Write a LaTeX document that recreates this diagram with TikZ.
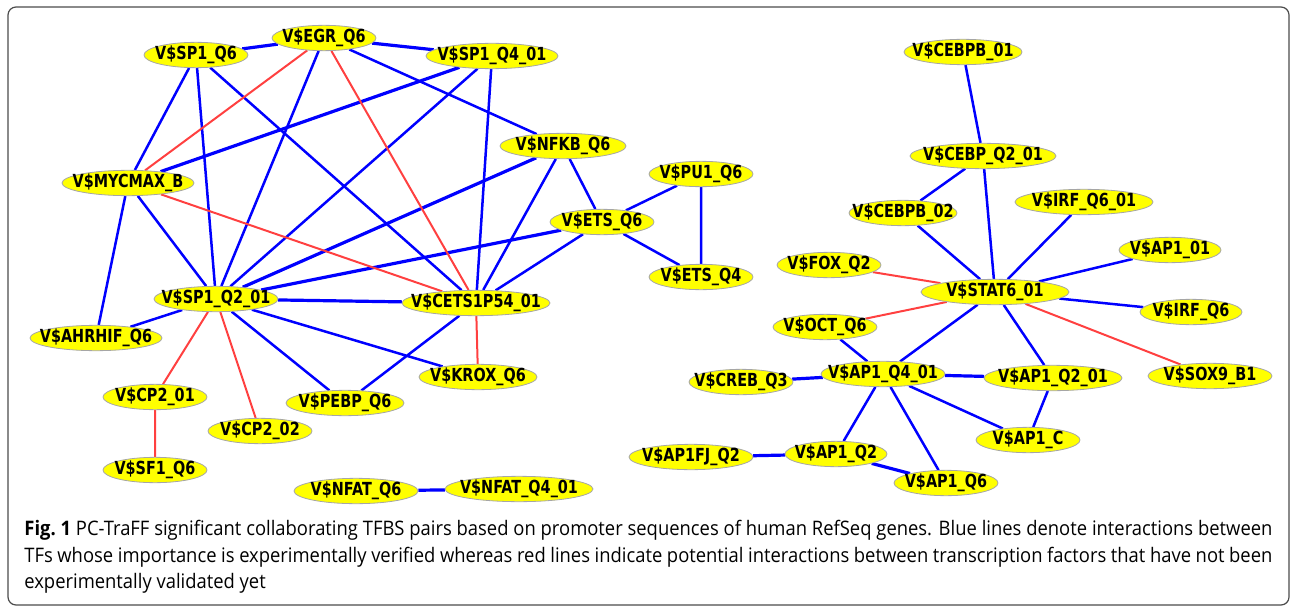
\documentclass[tikz,border=0pt]{standalone}
\usepackage{fontspec}
\newfontfamily\tffont{DejaVu Sans}[FakeStretch=0.8]
\newfontfamily\capfont{Open Sans}[FakeStretch=0.92]
\usetikzlibrary{shapes.geometric,backgrounds}
\definecolor{tfyellow}{RGB}{255,255,0}
\definecolor{tfblue}{RGB}{0,0,255}
\definecolor{tfred}{RGB}{255,64,64}
\begin{document}
\begin{tikzpicture}[x=.5pt,y=-.5pt,
  tf/.style={ellipse,fill=tfyellow,draw=black!35,line width=.4pt,inner xsep=-12pt,inner ysep=0pt,
    minimum height=12.5pt,font=\tffont\bfseries\fontsize{9}{10}\selectfont},
  bl/.style={tfblue,line width=1.25pt},
  blt/.style={tfblue,line width=1.6pt},
  rd/.style={tfred,line width=1pt}]
  \useasboundingbox (0,0) rectangle (1294,610);
  \draw[black!70,line width=.6pt,rounded corners=4pt] (8,7) rectangle (1289,605);
  % left cluster
  \node[tf,minimum width=52pt] (sp1q6) at (196,55) {V\$SP1\_Q6};
  \node[tf,minimum width=52pt] (egr) at (324,38) {V\$EGR\_Q6};
  \node[tf,minimum width=66pt] (sp1q4) at (492,56) {V\$SP1\_Q4\_01};
  \node[tf,minimum width=63pt] (nfkb) at (563,146) {V\$NFKB\_Q6};
  \node[tf,minimum width=66pt] (mycmax) at (128,183) {V\$MYCMAX\_B};
  \node[tf,minimum width=52pt] (etsq6) at (602,222) {V\$ETS\_Q6};
  \node[tf,minimum width=52pt] (pu1) at (701,174) {V\$PU1\_Q6};
  \node[tf,minimum width=52pt] (etsq4) at (701,277) {V\$ETS\_Q4};
  \node[tf,minimum width=62pt] (sp1q2) at (216,299) {V\$SP1\_Q2\_01};
  \node[tf,minimum width=74pt] (cets) at (476,303) {V\$CETS1P54\_01};
  \node[tf,minimum width=66pt] (ahrhif) at (96,338) {V\$AHRHIF\_Q6};
  \node[tf,minimum width=59pt] (krox) at (478,377) {V\$KROX\_Q6};
  \node[tf,minimum width=52pt] (cp201) at (155,397) {V\$CP2\_01};
  \node[tf,minimum width=59pt] (pebp) at (345,403) {V\$PEBP\_Q6};
  \node[tf,minimum width=52pt] (cp202) at (260,431) {V\$CP2\_02};
  \node[tf,minimum width=52pt] (sf1) at (155,470) {V\$SF1\_Q6};
  \node[tf,minimum width=62pt] (nfatq6) at (356,491) {V\$NFAT\_Q6};
  \node[tf,minimum width=74pt] (nfatq4) at (519,489) {V\$NFAT\_Q4\_01};
  % right cluster
  \node[tf,minimum width=59pt] (cebpb01) at (963,52) {V\$CEBPB\_01};
  \node[tf,minimum width=73pt] (cebpq2) at (983,156) {V\$CEBP\_Q2\_01};
  \node[tf,minimum width=54pt] (cebpb02) at (903,213) {V\$CEBPB\_02};
  \node[tf,minimum width=69pt] (irfq601) at (1084,202) {V\$IRF\_Q6\_01};
  \node[tf,minimum width=51pt] (ap101) at (1170,250) {V\$AP1\_01};
  \node[tf,minimum width=52pt] (fox) at (829,265) {V\$FOX\_Q2};
  \node[tf,minimum width=74pt] (stat6) at (995,292) {V\$STAT6\_01};
  \node[tf,minimum width=51pt] (irfq6) at (1191,312) {V\$IRF\_Q6};
  \node[tf,minimum width=52pt] (oct) at (825,327) {V\$OCT\_Q6};
  \node[tf,minimum width=62pt] (sox9) at (1210,376) {V\$SOX9\_B1};
  \node[tf,minimum width=52pt] (creb) at (741,382) {V\$CREB\_Q3};
  \node[tf,minimum width=62pt] (ap1q401) at (883,374) {V\$AP1\_Q4\_01};
  \node[tf,minimum width=69pt] (ap1q201) at (1053,378) {V\$AP1\_Q2\_01};
  \node[tf,minimum width=52pt] (ap1c) at (1028,440) {V\$AP1\_C};
  \node[tf,minimum width=62pt] (ap1fj) at (691,457) {V\$AP1FJ\_Q2};
  \node[tf,minimum width=51pt] (ap1q2) at (836,454) {V\$AP1\_Q2};
  \node[tf,minimum width=52pt] (ap1q6) at (946,483) {V\$AP1\_Q6};
  \begin{pgfonlayer}{background}
    \draw[bl] (sp1q6) -- (mycmax) (sp1q6) -- (sp1q2) (sp1q6) -- (cets)
      (egr) -- (sp1q2) (egr) -- (nfkb) (sp1q4) -- (sp1q2) (sp1q4) -- (cets)
      (nfkb) -- (cets) (nfkb) -- (etsq6) (mycmax) -- (ahrhif) (mycmax) -- (sp1q2)
      (etsq6) -- (cets) (etsq6) -- (pu1) (etsq6) -- (etsq4) (pu1) -- (etsq4)
      (sp1q2) -- (ahrhif) (sp1q2) -- (pebp) (sp1q2) -- (krox) (cets) -- (pebp);
    \draw[blt] (sp1q6) -- (egr) (egr) -- (sp1q4) (sp1q4) -- (mycmax)
      (nfkb) -- (sp1q2) (etsq6) -- (sp1q2) (sp1q2) -- (cets) (nfatq6) -- (nfatq4);
    \draw[rd] (egr) -- (mycmax) (egr) -- (cets) (mycmax) -- (cets)
      (sp1q2) -- (cp201) (sp1q2) -- (cp202) (cp201) -- (sf1) (cets) -- (krox);
    \draw[bl] (cebpb01) -- (cebpq2) (cebpq2) -- (cebpb02) (cebpq2) -- (stat6)
      (cebpb02) -- (stat6) (irfq601) -- (stat6) (ap101) -- (stat6) (irfq6) -- (stat6)
      (stat6) -- (ap1q401) (stat6) -- (ap1q201) (oct) -- (ap1q401)
      (ap1q401) -- (ap1c) (ap1q401) -- (ap1q2) (ap1q401) -- (ap1q6) (ap1q201) -- (ap1c);
    \draw[blt] (ap1fj) -- (ap1q2) (creb) -- (ap1q401) (ap1q401) -- (ap1q201) (ap1q2) -- (ap1q6);
    \draw[rd] (fox) -- (stat6) (oct) -- (stat6) (stat6) -- (sox9);
  \end{pgfonlayer}
  % caption
  \node[anchor=north west,inner sep=0pt,text width=624pt,align=justify,
    font=\capfont\fontsize{10}{13.25}\selectfont] (caption) at (24,520)
    {\textbf{Fig.~1} PC-TraFF significant collaborating TFBS pairs based on promoter sequences of human RefSeq genes. Blue lines denote interactions between\linebreak
     TFs whose importance is experimentally verified whereas red lines indicate potential interactions between transcription factors that have not been\linebreak
     experimentally validated yet};
\end{tikzpicture}
\end{document}
